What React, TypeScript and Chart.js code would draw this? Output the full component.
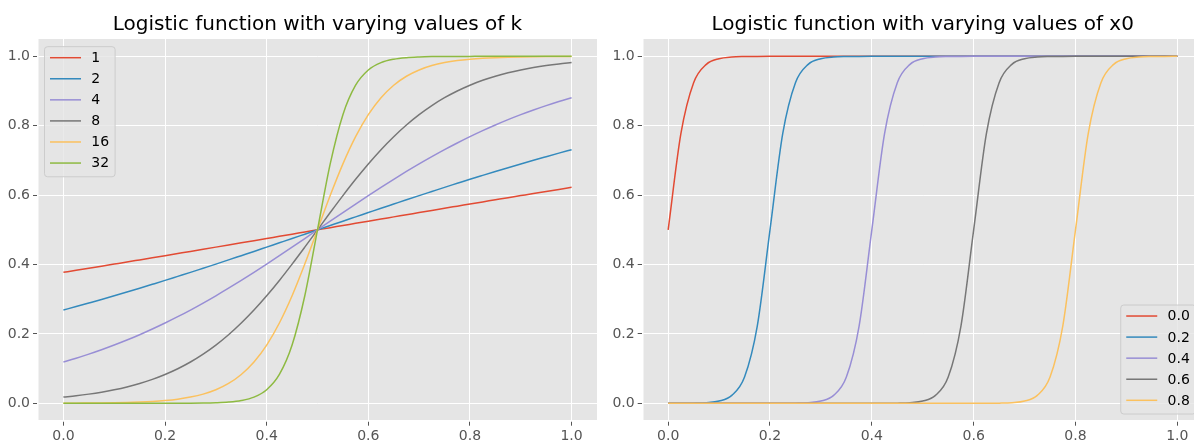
import { useEffect, useRef } from "react";
import { Chart, registerables } from "chart.js";

Chart.register(...registerables);

// Shared sample positions along x
const xs = [
  0, 0.025, 0.05, 0.075, 0.1, 0.125, 0.15, 0.175, 0.2, 0.225,
  0.25, 0.275, 0.3, 0.325, 0.35, 0.375, 0.4, 0.425, 0.45, 0.475,
  0.5, 0.525, 0.55, 0.575, 0.6, 0.625, 0.65, 0.675, 0.7, 0.725,
  0.75, 0.775, 0.8, 0.825, 0.85, 0.875, 0.9, 0.925, 0.95, 0.975, 1.0,
];

const tickValues = [0, 0.2, 0.4, 0.6, 0.8, 1.0];

// Left panel: steepness k (midpoint 0.5)
const kLabels = ["1", "2", "4", "8", "16", "32"];
const k1 = [
  0.3775, 0.3834, 0.3894, 0.3953, 0.4013, 0.4073, 0.4134, 0.4195, 0.4256, 0.4317,
  0.4378, 0.4440, 0.4502, 0.4564, 0.4626, 0.4688, 0.4750, 0.4813, 0.4875, 0.4938,
  0.5000, 0.5062, 0.5125, 0.5187, 0.5250, 0.5312, 0.5374, 0.5436, 0.5498, 0.5560,
  0.5622, 0.5683, 0.5744, 0.5805, 0.5866, 0.5927, 0.5987, 0.6047, 0.6106, 0.6166, 0.6225,
];
const k2 = [
  0.2689, 0.2789, 0.2891, 0.2994, 0.3100, 0.3208, 0.3318, 0.3430, 0.3543, 0.3659,
  0.3775, 0.3894, 0.4013, 0.4134, 0.4256, 0.4378, 0.4502, 0.4626, 0.4750, 0.4875,
  0.5000, 0.5125, 0.5250, 0.5374, 0.5498, 0.5622, 0.5744, 0.5866, 0.5987, 0.6106,
  0.6225, 0.6341, 0.6457, 0.6570, 0.6682, 0.6792, 0.6900, 0.7006, 0.7109, 0.7211, 0.7311,
];
const k4 = [
  0.1192, 0.1301, 0.1419, 0.1545, 0.1680, 0.1824, 0.1978, 0.2142, 0.2315, 0.2497,
  0.2689, 0.2891, 0.3100, 0.3318, 0.3543, 0.3775, 0.4013, 0.4256, 0.4502, 0.4750,
  0.5000, 0.5250, 0.5498, 0.5744, 0.5987, 0.6225, 0.6457, 0.6682, 0.6900, 0.7109,
  0.7311, 0.7503, 0.7685, 0.7858, 0.8022, 0.8176, 0.8320, 0.8455, 0.8581, 0.8699, 0.8808,
];
const k8 = [
  0.0180, 0.0219, 0.0266, 0.0323, 0.0392, 0.0474, 0.0573, 0.0691, 0.0832, 0.0998,
  0.1192, 0.1419, 0.1680, 0.1978, 0.2315, 0.2689, 0.3100, 0.3543, 0.4013, 0.4502,
  0.5000, 0.5498, 0.5987, 0.6457, 0.6900, 0.7311, 0.7685, 0.8022, 0.8320, 0.8581,
  0.8808, 0.9002, 0.9168, 0.9309, 0.9427, 0.9526, 0.9608, 0.9677, 0.9734, 0.9781, 0.9820,
];
const k16 = [
  0.0003, 0.0005, 0.0008, 0.0011, 0.0017, 0.0025, 0.0037, 0.0055, 0.0082, 0.0121,
  0.0180, 0.0266, 0.0392, 0.0573, 0.0832, 0.1192, 0.1680, 0.2315, 0.3100, 0.4013,
  0.5000, 0.5987, 0.6900, 0.7685, 0.8320, 0.8808, 0.9168, 0.9427, 0.9608, 0.9734,
  0.9820, 0.9879, 0.9918, 0.9945, 0.9963, 0.9975, 0.9983, 0.9989, 0.9993, 0.9995, 0.9997,
];
const k32 = [
  0.0000, 0.0000, 0.0000, 0.0000, 0.0000, 0.0000, 0.0000, 0.0000, 0.0001, 0.0002,
  0.0003, 0.0007, 0.0017, 0.0037, 0.0082, 0.0180, 0.0392, 0.0832, 0.1680, 0.3100,
  0.5000, 0.6900, 0.8320, 0.9168, 0.9608, 0.9820, 0.9918, 0.9963, 0.9983, 0.9993,
  0.9997, 0.9998, 0.9999, 1.0000, 1.0000, 1.0000, 1.0000, 1.0000, 1.0000, 1.0000, 1.0000,
];

// Right panel: midpoint x0 (steepness 50)
const x0Labels = ["0.0", "0.2", "0.4", "0.6", "0.8"];
const x0at00 = [
  0.5000, 0.7773, 0.9241, 0.9770, 0.9933, 0.9981, 0.9994, 0.9998, 1.0000, 1.0000,
  1.0000, 1.0000, 1.0000, 1.0000, 1.0000, 1.0000, 1.0000, 1.0000, 1.0000, 1.0000,
  1.0000, 1.0000, 1.0000, 1.0000, 1.0000, 1.0000, 1.0000, 1.0000, 1.0000, 1.0000,
  1.0000, 1.0000, 1.0000, 1.0000, 1.0000, 1.0000, 1.0000, 1.0000, 1.0000, 1.0000, 1.0000,
];
const x0at02 = [
  0.0000, 0.0002, 0.0006, 0.0019, 0.0067, 0.0230, 0.0759, 0.2227, 0.5000, 0.7773,
  0.9241, 0.9770, 0.9933, 0.9981, 0.9994, 0.9998, 1.0000, 1.0000, 1.0000, 1.0000,
  1.0000, 1.0000, 1.0000, 1.0000, 1.0000, 1.0000, 1.0000, 1.0000, 1.0000, 1.0000,
  1.0000, 1.0000, 1.0000, 1.0000, 1.0000, 1.0000, 1.0000, 1.0000, 1.0000, 1.0000, 1.0000,
];
const x0at04 = [
  0.0000, 0.0000, 0.0000, 0.0000, 0.0000, 0.0000, 0.0000, 0.0000, 0.0000, 0.0002,
  0.0006, 0.0019, 0.0067, 0.0230, 0.0759, 0.2227, 0.5000, 0.7773, 0.9241, 0.9770,
  0.9933, 0.9981, 0.9994, 0.9998, 1.0000, 1.0000, 1.0000, 1.0000, 1.0000, 1.0000,
  1.0000, 1.0000, 1.0000, 1.0000, 1.0000, 1.0000, 1.0000, 1.0000, 1.0000, 1.0000, 1.0000,
];
const x0at06 = [
  0.0000, 0.0000, 0.0000, 0.0000, 0.0000, 0.0000, 0.0000, 0.0000, 0.0000, 0.0000,
  0.0000, 0.0000, 0.0000, 0.0000, 0.0000, 0.0000, 0.0000, 0.0002, 0.0006, 0.0019,
  0.0067, 0.0230, 0.0759, 0.2227, 0.5000, 0.7773, 0.9241, 0.9770, 0.9933, 0.9981,
  0.9994, 0.9998, 1.0000, 1.0000, 1.0000, 1.0000, 1.0000, 1.0000, 1.0000, 1.0000, 1.0000,
];
const x0at08 = [
  0.0000, 0.0000, 0.0000, 0.0000, 0.0000, 0.0000, 0.0000, 0.0000, 0.0000, 0.0000,
  0.0000, 0.0000, 0.0000, 0.0000, 0.0000, 0.0000, 0.0000, 0.0000, 0.0000, 0.0000,
  0.0000, 0.0000, 0.0000, 0.0000, 0.0000, 0.0002, 0.0006, 0.0019, 0.0067, 0.0230,
  0.0759, 0.2227, 0.5000, 0.7773, 0.9241, 0.9770, 0.9933, 0.9981, 0.9994, 0.9998, 1.0000,
];

const palette = ["#E24A33", "#348ABD", "#988ED5", "#777777", "#FBC15E", "#8EBA42"];
const FONT = '"DejaVu Sans", sans-serif';
const LINE_W = 1.5;

type Corner = "upper left" | "lower right";

interface PanelSpec {
  title: string;
  labels: string[];
  series: number[][];
  legendAt: Corner;
  width: number;
  height: number;
  yAxisWidth: number;
  padRight: number;
}

function buildConfig(spec: PanelSpec): any {
  const { title, labels, series, legendAt, height, yAxisWidth, padRight } = spec;
  const top = 39;
  const xAxisHeight = height - 420.7;

  const background = {
    id: "panelBackground",
    beforeDraw(chart: any) {
      const { ctx, chartArea: a } = chart;
      ctx.save();
      ctx.fillStyle = "#E5E5E5";
      ctx.fillRect(a.left, a.top, a.right - a.left, a.bottom - a.top);
      ctx.restore();
    },
  };

  const heading = {
    id: "panelTitle",
    afterDraw(chart: any) {
      const { ctx, chartArea: a } = chart;
      ctx.save();
      ctx.font = `20px ${FONT}`;
      ctx.fillStyle = "#000";
      ctx.textAlign = "center";
      ctx.textBaseline = "alphabetic";
      ctx.fillText(title, (a.left + a.right) / 2, 29.5);
      ctx.restore();
    },
  };

  const legend = {
    id: "panelLegend",
    afterDraw(chart: any) {
      const { ctx, chartArea: a } = chart;
      ctx.save();
      ctx.font = `14px ${FONT}`;
      const textW = Math.max(...labels.map((l) => ctx.measureText(l).width));
      const rowH = 21.07;
      const textOff = 46.8;
      const boxW = textOff + textW + 6;
      const boxH = 11 + (labels.length - 1) * rowH + 13.7;
      let bx: number;
      let by: number;
      if (legendAt === "upper left") {
        bx = a.left + 6.5;
        by = a.top + 7.7;
      } else {
        bx = a.right - 7 - boxW;
        by = a.bottom - 6.7 - boxH;
      }
      const r = 3;
      ctx.beginPath();
      ctx.moveTo(bx + r, by);
      ctx.lineTo(bx + boxW - r, by);
      ctx.arcTo(bx + boxW, by, bx + boxW, by + r, r);
      ctx.lineTo(bx + boxW, by + boxH - r);
      ctx.arcTo(bx + boxW, by + boxH, bx + boxW - r, by + boxH, r);
      ctx.lineTo(bx + r, by + boxH);
      ctx.arcTo(bx, by + boxH, bx, by + boxH - r, r);
      ctx.lineTo(bx, by + r);
      ctx.arcTo(bx, by, bx + r, by, r);
      ctx.closePath();
      ctx.fillStyle = "rgba(229,229,229,0.8)";
      ctx.fill();
      ctx.strokeStyle = "#CCCCCC";
      ctx.lineWidth = 1;
      ctx.stroke();

      labels.forEach((label, i) => {
        const y = by + 11 + i * rowH;
        ctx.strokeStyle = palette[i];
        ctx.lineWidth = LINE_W;
        ctx.beginPath();
        ctx.moveTo(bx + 5.5, y);
        ctx.lineTo(bx + 36.5, y);
        ctx.stroke();
        ctx.fillStyle = "#000";
        ctx.textAlign = "left";
        ctx.textBaseline = "middle";
        ctx.fillText(label, bx + textOff, y + 0.8);
      });
      ctx.restore();
    },
  };

  const axis = (isX: boolean) => ({
    type: "linear",
    min: -0.05,
    max: 1.05,
    afterBuildTicks: (s: any) => {
      s.ticks = tickValues.map((v) => ({ value: v }));
    },
    afterFit: (s: any) => {
      if (isX) s.height = xAxisHeight;
      else s.width = yAxisWidth;
    },
    grid: {
      color: "#FFFFFF",
      lineWidth: 1,
      tickColor: "#555555",
      tickLength: 5,
      tickWidth: 1,
    },
    border: { display: true, color: "#FFFFFF", width: 1.5 },
    ticks: {
      color: "#555555",
      font: { family: FONT, size: 14 },
      padding: isX ? 2 : 3,
      autoSkip: false,
      maxRotation: 0,
      callback: (v: any) => Number(v).toFixed(1),
    },
  });

  return {
    type: "line",
    data: {
      datasets: series.map((ys, i) => ({
        label: labels[i],
        data: xs.map((x, j) => ({ x, y: ys[j] })),
        borderColor: palette[i],
        backgroundColor: palette[i],
        borderWidth: LINE_W,
        pointRadius: 0,
        fill: false,
        cubicInterpolationMode: "monotone",
        order: -i,
      })),
    },
    options: {
      responsive: false,
      animation: false,
      devicePixelRatio: 1,
      layout: { padding: { left: 0, right: padRight, top, bottom: 0 } },
      plugins: {
        legend: { display: false },
        title: { display: false },
        tooltip: { enabled: false },
      },
      scales: { x: axis(true), y: axis(false) },
    },
    plugins: [background, legend, heading],
  };
}

function Panel({ spec, left }: { spec: PanelSpec; left: number }) {
  const ref = useRef<HTMLCanvasElement | null>(null);
  useEffect(() => {
    if (!ref.current) return;
    const chart = new Chart(ref.current, buildConfig(spec));
    return () => chart.destroy();
  }, [spec]);
  return (
    <canvas
      ref={ref}
      width={spec.width}
      height={spec.height}
      style={{
        position: "absolute",
        left,
        top: 0,
        width: spec.width,
        height: spec.height,
        display: "block",
      }}
    />
  );
}

const leftSpec: PanelSpec = {
  title: "Logistic function with varying values of k",
  labels: kLabels,
  series: [k1, k2, k4, k8, k16, k32],
  legendAt: "upper left",
  width: 600,
  height: 443,
  yAxisWidth: 38,
  padRight: 3,
};

const rightSpec: PanelSpec = {
  title: "Logistic function with varying values of x0",
  labels: x0Labels,
  series: [x0at00, x0at02, x0at04, x0at06, x0at08],
  legendAt: "lower right",
  width: 610,
  height: 443,
  yAxisWidth: 42.7,
  padRight: 7.2,
};

export default function App() {
  return (
    <div
      style={{
        position: "fixed",
        left: 0,
        top: 0,
        width: 1194,
        height: 443,
        overflow: "hidden",
        background: "#FFFFFF",
      }}
    >
      <Panel spec={leftSpec} left={0} />
      <Panel spec={rightSpec} left={600} />
    </div>
  );
}
